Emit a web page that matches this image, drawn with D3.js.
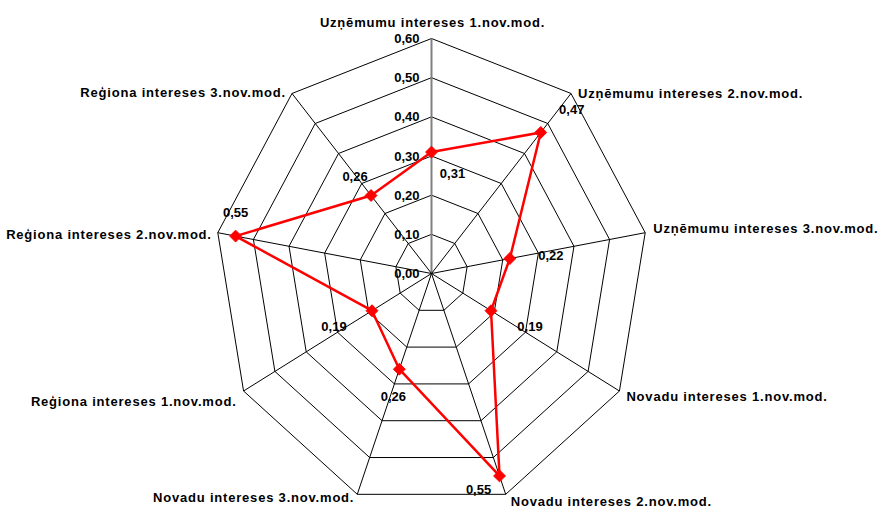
<!DOCTYPE html>
<html>
<head>
<meta charset="utf-8">
<script src="https://cdn.jsdelivr.net/npm/d3@7"></script>
<style>
  body { margin: 0; background: #fff; }
  text { font-family: "Liberation Sans", Arial, sans-serif; font-weight: bold; font-size: 13px; fill: #000; }
  .cat { letter-spacing: 0.8px; }
</style>
</head>
<body>
<svg width="884" height="509"></svg>
<script>
// data
var categories = [
  "Uzņēmumu intereses 1.nov.mod.",
  "Uzņēmumu intereses 2.nov.mod.",
  "Uzņēmumu intereses 3.nov.mod.",
  "Novadu intereses 1.nov.mod.",
  "Novadu intereses 2.nov.mod.",
  "Novadu intereses 3.nov.mod.",
  "Reģiona intereses 1.nov.mod.",
  "Reģiona intereses 2.nov.mod.",
  "Reģiona intereses 3.nov.mod."
];
var values = [0.31, 0.47, 0.22, 0.19, 0.55, 0.26, 0.19, 0.55, 0.26];
var ticks = [0, 0.1, 0.2, 0.3, 0.4, 0.5, 0.6];

// layout (offsets of labels in px, not data)
var valueLabelOffsets = [[21, 21], [31, -23], [41, -3], [39, 16], [-21, 14], [-6, 27], [-38, 16], [0, -24], [-16, -19]];
var catLabelOffsets = [[1, -16], [7, 0], [8, -4], [7, 5], [5, 7], [-3, 3], [-7, 10], [-6, 2], [-6, -1]];

var cx = 431.5, cy = 273.5;
var sx = 217 / 235; // picture is a bit narrower than tall

var svg = d3.select("svg");
var g = svg.append("g");

var r = d3.scaleLinear().domain([0, 0.6]).range([0, 235]);
var angle = d3.scaleLinear().domain([0, categories.length]).range([0, 2 * Math.PI]);

function px(i, v) { return cx + r(v) * Math.sin(angle(i)) * sx; }
function py(i, v) { return cy - r(v) * Math.cos(angle(i)); }

var fmt = function (v) { return d3.format(".2f")(v).replace(".", ","); };

// rings
ticks.slice(1).forEach(function (t) {
  g.append("polygon")
    .attr("points", categories.map(function (c, i) { return px(i, t) + "," + py(i, t); }).join(" "))
    .attr("fill", "none")
    .attr("stroke", "#000")
    .attr("stroke-width", 1);
});

// spokes
g.selectAll(".spoke")
  .data(categories)
  .enter().append("line")
  .attr("class", "spoke")
  .attr("x1", cx).attr("y1", cy)
  .attr("x2", function (d, i) { return px(i, 0.6); })
  .attr("y2", function (d, i) { return py(i, 0.6); })
  .attr("stroke", function (d, i) { return i === 0 ? "#808080" : "#000"; })
  .attr("stroke-width", function (d, i) { return i === 0 ? 2 : 1; });

// tick labels
g.selectAll(".tick")
  .data(ticks)
  .enter().append("text")
  .attr("x", cx - 12)
  .attr("y", function (d) { return py(0, d); })
  .attr("dy", "0.35em")
  .attr("text-anchor", "end")
  .text(fmt);

// category labels
g.selectAll(".cat")
  .data(categories)
  .enter().append("text")
  .attr("class", "cat")
  .attr("x", function (d, i) { return px(i, 0.6) + catLabelOffsets[i][0]; })
  .attr("y", function (d, i) { return py(i, 0.6) + catLabelOffsets[i][1]; })
  .attr("dy", "0.35em")
  .attr("text-anchor", function (d, i) {
    var s = Math.sin(angle(i));
    return Math.abs(s) < 0.1 ? "middle" : (s > 0 ? "start" : "end");
  })
  .text(function (d) { return d; });

// series line
var line = d3.line()
  .x(function (d, i) { return px(i, d); })
  .y(function (d, i) { return py(i, d); })
  .curve(d3.curveLinearClosed);

g.append("path")
  .datum(values)
  .attr("d", line)
  .attr("fill", "none")
  .attr("stroke", "#ff0000")
  .attr("stroke-width", 2.5)
  .attr("stroke-linejoin", "round");

// markers
g.selectAll(".pt")
  .data(values)
  .enter().append("path")
  .attr("class", "pt")
  .attr("d", d3.symbol().type(d3.symbolDiamond2).size(90))
  .attr("transform", function (d, i) { return "translate(" + px(i, d) + "," + py(i, d) + ")"; })
  .attr("fill", "#ff0000")
  .attr("stroke", "#ff0000")
  .attr("stroke-width", 1);

// value labels
g.selectAll(".val")
  .data(values)
  .enter().append("text")
  .attr("x", function (d, i) { return px(i, d) + valueLabelOffsets[i][0]; })
  .attr("y", function (d, i) { return py(i, d) + valueLabelOffsets[i][1]; })
  .attr("dy", "0.35em")
  .attr("text-anchor", "middle")
  .text(fmt);
</script>
</body>
</html>
